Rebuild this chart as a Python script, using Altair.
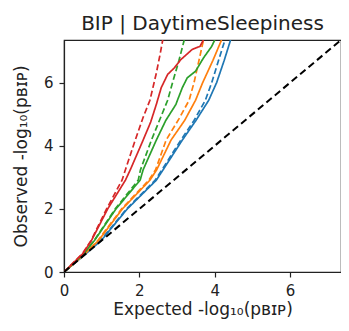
import altair as alt
import pandas as pd

# ---- data ----
blue_solid_x = [0, 0.5, 0.99, 1.68, 2.45, 2.63, 3.14, 3.5, 3.84, 4.05, 4.25, 4.42]
blue_solid_y = [0, 0.5, 1.0, 2.0, 2.91, 3.24, 4.18, 4.8, 5.44, 6.0, 6.7, 7.35]
blue_dash_x = [0, 0.5, 0.97, 1.66, 2.42, 2.6, 3.1, 3.45, 3.75, 3.92, 4.1, 4.27]
blue_dash_y = [0, 0.5, 1.0, 2.0, 2.91, 3.24, 4.18, 4.8, 5.44, 6.0, 6.7, 7.35]

orange_solid_x = [0, 0.5, 0.92, 1.55, 2.28, 2.46, 2.84, 3.2, 3.49, 3.68, 3.95, 4.18]
orange_solid_y = [0, 0.52, 1.0, 2.0, 2.91, 3.24, 4.18, 4.8, 5.44, 6.0, 6.7, 7.35]
orange_dash_x = [0, 0.5, 0.9, 1.53, 2.25, 2.43, 2.71, 3.05, 3.32, 3.45, 3.6, 3.7]
orange_dash_y = [0, 0.52, 1.0, 2.0, 2.91, 3.24, 4.18, 4.85, 5.44, 6.0, 6.8, 7.35]

green_solid_x = [0, 0.5, 0.81, 1.38, 2.02, 2.1, 2.45, 2.7, 2.97, 3.01, 3.14, 3.27, 3.49, 3.7, 3.92, 4.0]
green_solid_y = [0, 0.55, 1.0, 2.0, 2.91, 3.24, 4.18, 4.8, 5.31, 5.44, 5.84, 6.15, 6.36, 6.78, 7.15, 7.35]
green_dash_x = [0, 0.5, 0.8, 1.36, 1.97, 2.03, 2.32, 2.6, 2.75, 2.88, 3.05, 3.19]
green_dash_y = [0, 0.55, 1.0, 2.0, 2.91, 3.24, 4.18, 5.0, 5.44, 6.0, 6.7, 7.35]

red_solid_x = [0, 0.5, 0.73, 1.16, 1.63, 1.76, 2.1, 2.3, 2.45, 2.58, 2.75, 2.93, 3.1, 3.4, 3.61, 3.7]
red_solid_y = [0, 0.58, 1.0, 2.0, 2.91, 3.24, 4.18, 4.75, 5.31, 5.84, 6.26, 6.47, 6.73, 7.05, 7.15, 7.35]
red_dash_x = [0, 0.5, 0.72, 1.13, 1.54, 1.63, 1.89, 2.1, 2.28, 2.45, 2.55, 2.62]
red_dash_y = [0, 0.6, 1.0, 2.0, 2.91, 3.24, 4.18, 4.9, 5.44, 6.3, 6.9, 7.35]

diag_x = [0, 7.35]
diag_y = [0, 7.35]

series = [
    ("blue solid", blue_solid_x, blue_solid_y, "#1f77b4", [1, 0], 1.7),
    ("blue dashed", blue_dash_x, blue_dash_y, "#1f77b4", [6, 3], 1.7),
    ("orange solid", orange_solid_x, orange_solid_y, "#ff7f0e", [1, 0], 1.7),
    ("orange dashed", orange_dash_x, orange_dash_y, "#ff7f0e", [6, 3], 1.7),
    ("green solid", green_solid_x, green_solid_y, "#2ca02c", [1, 0], 1.7),
    ("green dashed", green_dash_x, green_dash_y, "#2ca02c", [6, 3], 1.7),
    ("red solid", red_solid_x, red_solid_y, "#d62728", [1, 0], 1.7),
    ("red dashed", red_dash_x, red_dash_y, "#d62728", [6, 3], 1.7),
    ("diagonal", diag_x, diag_y, "#000000", [7, 4], 2.0),
]

DMAX = 7.35
xscale = alt.Scale(domain=[0, DMAX], nice=False, zero=False)
yscale = alt.Scale(domain=[0, DMAX], nice=False, zero=False)

x_title = "Expected -log\u2081\u2080(p\u0299\u026a\u1d18)"
y_title = "Observed -log\u2081\u2080(p\u0299\u026a\u1d18)"

x_axis = alt.Axis(values=[0, 2, 4, 6], title=x_title)
y_axis = alt.Axis(values=[0, 2, 4, 6], title=y_title)

layers = []
for i, (name, xs, ys, color, dash, w) in enumerate(series):
    df = pd.DataFrame({"x": xs, "y": ys, "i": list(range(len(xs)))})
    layers.append(
        alt.Chart(df).mark_line(color=color, strokeDash=dash, strokeWidth=w, clip=True)
        .encode(x=alt.X("x:Q", scale=xscale, axis=x_axis),
                y=alt.Y("y:Q", scale=yscale, axis=y_axis),
                order="i:Q")
    )

chart = (
    alt.layer(*layers)
    .properties(
        width=277,
        height=232,
        title=alt.TitleParams("BIP | DaytimeSleepiness", fontSize=20, fontWeight="normal",
                              anchor="middle", offset=6, color="#222222",
                              font="DejaVu Sans"),
        autosize=alt.AutoSizeParams(type="none"),
        padding={"left": 56, "top": 32, "right": 0, "bottom": 51},
    )
    .configure(font="DejaVu Sans", background="white")
    .configure_view(stroke="#222222", strokeWidth=1.2)
    .configure_axis(
        grid=False,
        domainColor="#222222",
        domainWidth=1.2,
        tickColor="#222222",
        tickSize=5,
        tickWidth=1.2,
        labelFontSize=15,
        labelColor="#222222",
        labelPadding=6,
        titleFontSize=17,
        titleFontWeight="normal",
        titleColor="#222222",
        labelFlush=False,
    )
    .configure_axisX(titlePadding=3)
    .configure_axisY(titlePadding=13)
)

chart.save("out.html", embed_options={"renderer": "svg", "actions": False})
